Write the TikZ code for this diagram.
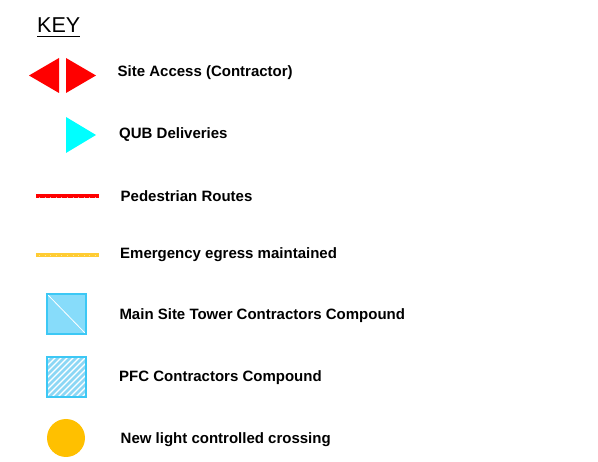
\documentclass[tikz,border=0pt]{standalone}
\usepackage{fontspec}
\setmainfont{Liberation Sans}
\begin{document}
\begin{tikzpicture}[x=1pt,y=-1pt,
  lbl/.style={anchor=base west,inner sep=0pt,font=\fontsize{15}{18}\selectfont\bfseries},
  keytitle/.style={anchor=base west,inner sep=0pt,font=\fontsize{21.5}{24}\selectfont}]
\definecolor{keyred}{RGB}{255,0,0}
\definecolor{keycyan}{RGB}{0,255,255}
\definecolor{keyyellow}{RGB}{255,204,51}
\definecolor{keyblue}{RGB}{135,220,250}
\definecolor{keyblueedge}{RGB}{60,200,245}
\definecolor{keyhatch}{RGB}{140,215,245}
\definecolor{keyorange}{RGB}{255,192,0}
\useasboundingbox (0,0) rectangle (598,462);
% title
\node[keytitle] (key) at (37,32.7) {KEY};
\draw[line width=1.3pt] (key.base west)++(0,4) coordinate (u1) -- ([yshift=-4pt]key.base east);
% site access triangles
\fill[keyred] (29,75.5) -- (59,58) -- (59,93) -- cycle;
\fill[keyred] (96,75.5) -- (66,58) -- (66,93) -- cycle;
\node[lbl] (t1) at (117.5,76.5) {Site Access (Contractor)};
% QUB deliveries
\fill[keycyan] (96,135) -- (66,117) -- (66,153) -- cycle;
\node[lbl] (t2) at (119,139) {QUB Deliveries};
% pedestrian routes
\draw[keyred,line width=4pt] (36,196) -- (99,196);
\draw[white!60!keyred,line width=1pt,dash pattern=on 0.8pt off 4.8pt,dash phase=-3pt] (36,197.5) -- (99,197.5);
\node[lbl] (t3) at (120.5,201.7) {Pedestrian Routes};
% emergency egress
\draw[keyyellow,line width=4pt] (36,254.7) -- (99,254.7);
\draw[white!50!keyyellow,line width=1pt,dash pattern=on 0.8pt off 4.8pt,dash phase=-3pt] (36,256) -- (99,256);
\node[lbl] (t4) at (120,259) {Emergency egress maintained};
% main site compound
\fill[keyblue] (47,294) rectangle (86,334);
\draw[white,line width=0.8pt] (48,295) -- (85,333);
\draw[keyblueedge,line width=1.5pt] (47,294) rectangle (86,334);
\node[lbl] (t5) at (119.3,319.3) {Main Site Tower Contractors Compound};
% PFC compound
\begin{scope}
\clip (47,357) rectangle (86,397);
\foreach \k in {0,6,...,84} {
  \draw[keyhatch,line width=2.6pt] (47+\k-40,397) -- (47+\k,357);
}
\end{scope}
\draw[keyblueedge,line width=1.5pt] (47,357) rectangle (86,397);
\node[lbl] (t6) at (119,381.5) {PFC Contractors Compound};
% crossing
\fill[keyorange] (66,438) circle (19);
\node[lbl] (t7) at (120.5,444) {New light controlled crossing};
\end{tikzpicture}
\end{document}
